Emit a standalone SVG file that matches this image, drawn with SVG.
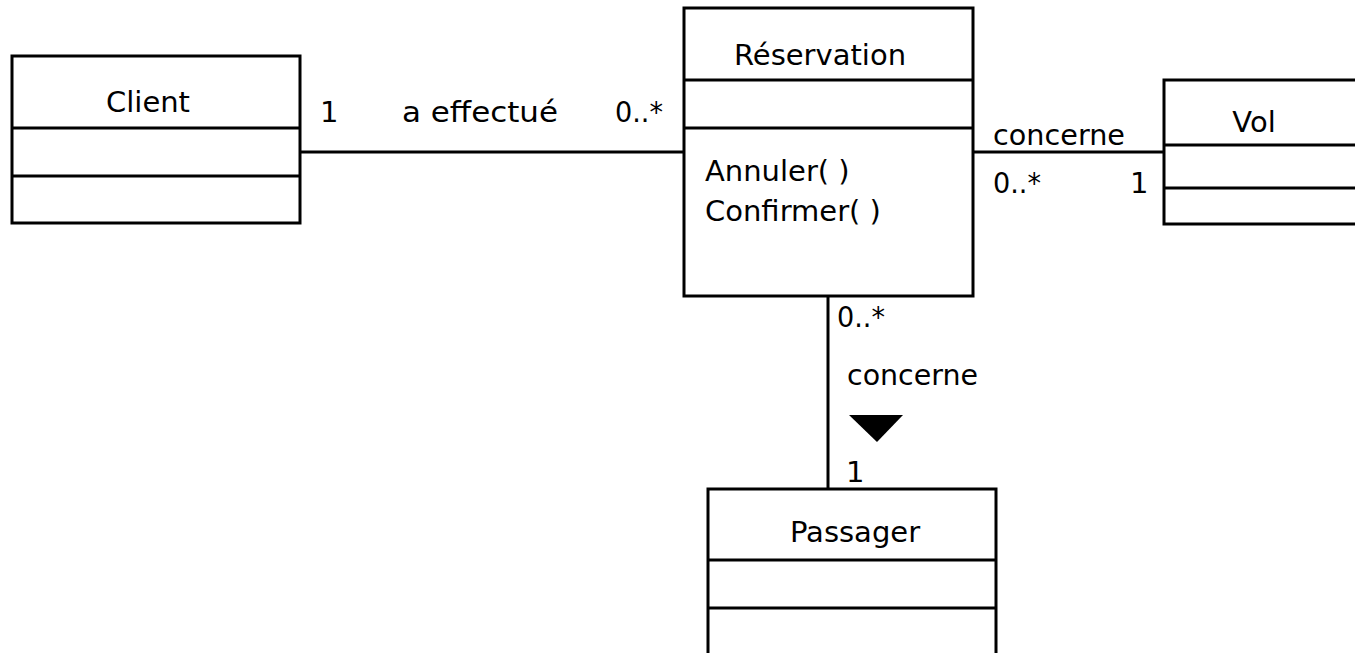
<svg xmlns="http://www.w3.org/2000/svg" width="1355" height="653" viewBox="0 0 1355 653">
<style>
.box{fill:#fff;stroke:#000;stroke-width:3}
.ln{stroke:#000;stroke-width:3;fill:none}
text{font-family:"DejaVu Sans","Liberation Sans",sans-serif;font-size:29px;fill:#000}
.c{text-anchor:middle}
</style>
<rect width="1355" height="653" fill="#fff"/>
<g id="connectors">
<line class="ln" x1="300" y1="152" x2="684" y2="152"/>
<line class="ln" x1="973" y1="152" x2="1164" y2="152"/>
<line class="ln" x1="828" y1="296" x2="828" y2="489"/>
<polygon points="849,415 903,415 877,442" fill="#000"/>
<text x="320" y="122">1</text>
<text x="402" y="122" textLength="156" lengthAdjust="spacingAndGlyphs">a effectué</text>
<text x="615" y="122" textLength="48" lengthAdjust="spacingAndGlyphs">0..*</text>
<text x="993" y="145" textLength="132" lengthAdjust="spacingAndGlyphs">concerne</text>
<text x="993" y="193" textLength="48" lengthAdjust="spacingAndGlyphs">0..*</text>
<text x="1130" y="193">1</text>
<text x="837" y="327" textLength="48" lengthAdjust="spacingAndGlyphs">0..*</text>
<text x="847" y="385" textLength="131" lengthAdjust="spacingAndGlyphs">concerne</text>
<text x="846" y="482">1</text>
</g>
<g id="client">
<rect class="box" x="12" y="56" width="288" height="167"/>
<line class="ln" x1="12" y1="128" x2="300" y2="128"/>
<line class="ln" x1="12" y1="176" x2="300" y2="176"/>
<text class="c" x="148" y="112">Client</text>
</g>
<g id="reservation">
<rect class="box" x="684" y="8" width="289" height="288"/>
<line class="ln" x1="684" y1="80" x2="973" y2="80"/>
<line class="ln" x1="684" y1="128" x2="973" y2="128"/>
<text class="c" x="820" y="65">Réservation</text>
<text x="705" y="181">Annuler( )</text>
<text x="705" y="221">Confirmer( )</text>
</g>
<g id="vol">
<rect class="box" x="1164" y="80" width="200" height="144"/>
<line class="ln" x1="1164" y1="145" x2="1364" y2="145"/>
<line class="ln" x1="1164" y1="188" x2="1364" y2="188"/>
<text class="c" x="1254" y="132">Vol</text>
</g>
<g id="passager">
<rect class="box" x="708" y="489" width="288" height="180"/>
<line class="ln" x1="708" y1="560" x2="996" y2="560"/>
<line class="ln" x1="708" y1="608" x2="996" y2="608"/>
<text class="c" x="855" y="542">Passager</text>
</g>
</svg>
